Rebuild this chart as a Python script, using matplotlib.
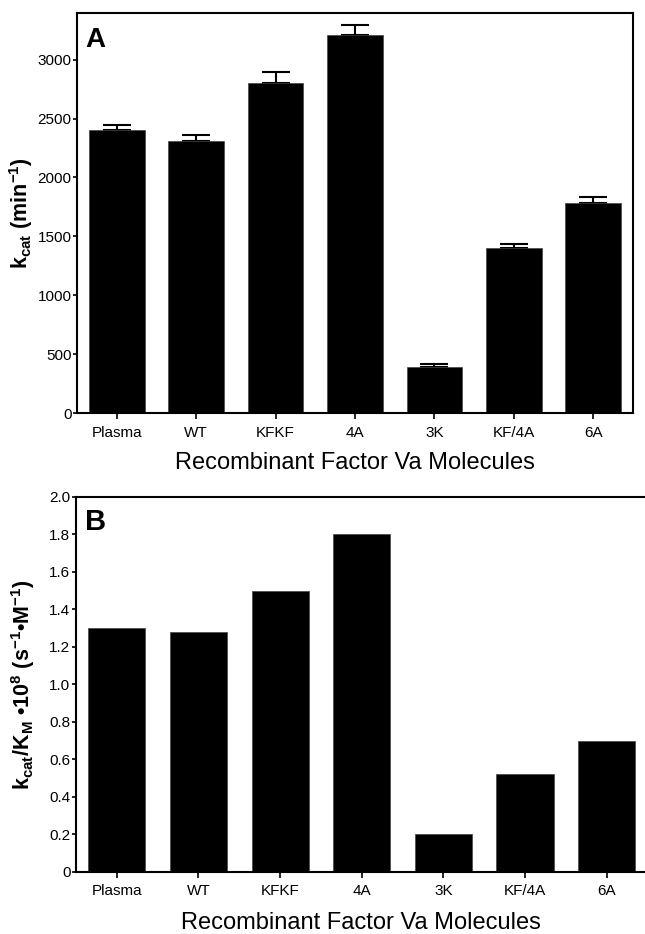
import matplotlib
matplotlib.use("Agg")
import matplotlib.pyplot as plt

# ===============================
# DATA
# ===============================
molecules = ["Plasma", "WT", "KFKF", "4A", "3K", "KF/4A", "6A"]
kcat = [2405, 2308, 2805, 3212, 390, 1398, 1780]
kcat_err = [42, 50, 92, 85, 22, 37, 58]
kcat_km = [1.30, 1.28, 1.50, 1.80, 0.20, 0.52, 0.70]

kcat_ticks = [0, 500, 1000, 1500, 2000, 2500, 3000]
ratio_ticks = [0, 0.2, 0.4, 0.6, 0.8, 1.0, 1.2, 1.4, 1.6, 1.8, 2.0]
ratio_ticklabels = ["0", "0.2", "0.4", "0.6", "0.8", "1.0", "1.2", "1.4", "1.6", "1.8", "2.0"]

# ===============================
# STYLE
# ===============================
plt.rcParams["font.family"] = ["Liberation Sans", "DejaVu Sans"]
plt.rcParams["mathtext.fontset"] = "custom"
plt.rcParams["mathtext.rm"] = "Liberation Sans"
plt.rcParams["mathtext.it"] = "Liberation Sans"
plt.rcParams["mathtext.bf"] = "Liberation Sans:bold"

XLABEL = "Recombinant Factor Va Molecules"

fig = plt.figure(figsize=(6.45, 9.34), dpi=100)
ax1 = fig.add_axes([0.1194, 0.5578, 0.862, 0.4288])
ax2 = fig.add_axes([0.1178, 0.0664, 0.8822, 0.4015])

x = list(range(len(molecules)))


def style_axes(ax):
    for s in ax.spines.values():
        s.set_linewidth(1.5)
    ax.tick_params(axis="both", direction="out", width=1.2, labelsize=11)
    ax.tick_params(axis="x", length=4, pad=5)
    ax.tick_params(axis="y", length=3, pad=1)
    ax.set_xticks(x)
    ax.set_xticklabels(molecules)


# ===============================
# PANEL A
# ===============================
ax1.bar(x, kcat, width=0.70, color="black", edgecolor="#444444", linewidth=0.5,
        zorder=2)
ax1.errorbar(x, kcat, yerr=[[0] * len(kcat), kcat_err], fmt="none",
             ecolor="black", elinewidth=1.5, capsize=10, capthick=1.5, zorder=1)
style_axes(ax1)
ax1.set_xlim(-0.5, 6.5)
ax1.set_ylim(0, 3400)
ax1.set_yticks(kcat_ticks)
ax1.set_yticklabels([str(t) for t in kcat_ticks])
ax1.set_ylabel(r"k$_{\mathbf{cat}}$ (min$^{\mathbf{-1}}$)", fontsize=15.5,
               fontweight="bold", labelpad=2)
ax1.set_xlabel(XLABEL, fontsize=17, labelpad=9)
ax1.text(0.0144, 0.914, "A", transform=ax1.transAxes, fontsize=20,
         fontweight="bold", va="baseline", ha="left")

# ===============================
# PANEL B
# ===============================
ax2.bar(x, kcat_km, width=0.70, color="black", edgecolor="#444444",
        linewidth=0.5, zorder=2)
style_axes(ax2)
ax2.spines["right"].set_visible(False)
ax2.set_xlim(-0.5, 6.47)
ax2.set_ylim(0, 2.0)
ax2.set_yticks(ratio_ticks)
ax2.set_yticklabels(ratio_ticklabels)
ax2.set_ylabel(r"k$_{\mathbf{cat}}$/K$_{\mathbf{M}}$ •10$^{\mathbf{8}}$ "
               r"(s$^{\mathbf{-1}}$•M$^{\mathbf{-1}}$)",
               fontsize=15.5, fontweight="bold", labelpad=9)
ax2.set_xlabel(XLABEL, fontsize=17, labelpad=10)
ax2.text(0.016, 0.912, "B", transform=ax2.transAxes, fontsize=21,
         fontweight="bold", va="baseline", ha="left")

fig.savefig("out.png", dpi=100)
